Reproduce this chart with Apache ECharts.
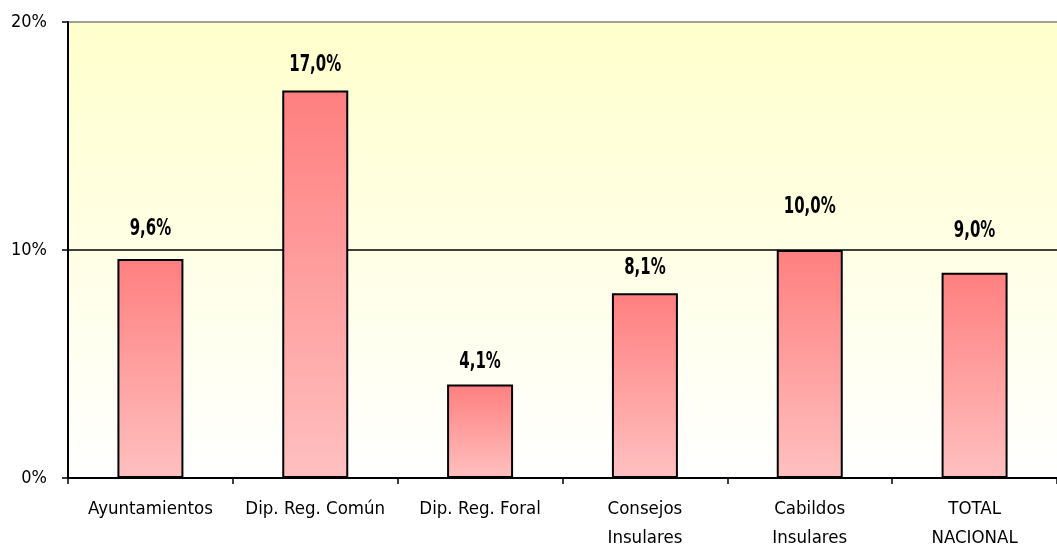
<!DOCTYPE html>
<html><head><meta charset="utf-8">
<script src="https://cdn.jsdelivr.net/npm/echarts@6/dist/echarts.min.js"></script>
<style>html,body{margin:0;padding:0;background:#fff}#c{width:1057px;height:553px}</style>
</head><body><div id="c"></div>
<script>
const categories = ['Ayuntamientos', 'Dip. Reg. Común', 'Dip. Reg. Foral', 'Consejos\nInsulares', 'Cabildos\nInsulares', 'TOTAL\nNACIONAL'];
const values = [9.6, 17.0, 4.1, 8.1, 10.0, 9.0];
const labels = ['9,6%', '17,0%', '4,1%', '8,1%', '10,0%', '9,0%'];
const yTicks = [0, 10, 20];

// styling only: pixel gap between bar top and its label baseline (as in the original)
const labelGap = [25, 20, 17, 20, 38, 37];

const FONT = '"DejaVu Sans Condensed", "Liberation Sans", sans-serif';
const chart = echarts.init(document.getElementById('c'));
chart.setOption({
  animation: false,
  grid: {
    left: 68, top: 22, bottom: 74, width: 998,
    show: true, borderWidth: 0,
    backgroundColor: new echarts.graphic.LinearGradient(0, 0, 0, 1, [
      {offset: 0, color: '#FFFFCC'}, {offset: 1, color: '#FFFFFF'}
    ])
  },
  xAxis: {
    type: 'category', data: categories,
    axisLine: {lineStyle: {color: '#000', width: 2}},
    axisTick: {show: true, length: 6, lineStyle: {color: '#000', width: 1.5}},
    axisLabel: {color: '#000', fontSize: 18.5, fontFamily: FONT, margin: 17, lineHeight: 29, interval: 0}
  },
  yAxis: {
    type: 'value', min: 0, max: 20, interval: 10,
    axisLine: {show: true, lineStyle: {color: '#000', width: 2}},
    axisTick: {show: true, length: 6, lineStyle: {color: '#000', width: 1.5}},
    axisLabel: {color: '#000', fontSize: 18, fontFamily: FONT, margin: 21,
      formatter: v => yTicks.includes(v) ? v + '%' : ''},
    splitLine: {show: true, lineStyle: {color: ['#000', '#000', '#808080'], width: 1.5}}
  },
  series: [{
    type: 'bar', data: values, barWidth: 66,
    itemStyle: {
      borderColor: '#000', borderWidth: 2,
      color: new echarts.graphic.LinearGradient(0, 0, 0, 1, [
        {offset: 0, color: '#FF7F7F'}, {offset: 1, color: '#FFC0C0'}
      ])
    }
  }, {
    type: 'custom',
    data: values.map((v, i) => [i, v]),
    z: 5,
    renderItem: (params, api) => {
      const i = params.dataIndex;
      const p = api.coord([api.value(0), api.value(1)]);
      return {
        type: 'text',
        x: p[0], y: p[1] - labelGap[i] - 5,
        scaleX: 0.65,
        style: {
          text: labels[i], fill: '#000',
          font: 'bold 23px "DejaVu Sans", sans-serif',
          align: 'center', verticalAlign: 'middle'
        }
      };
    }
  }]
});
</script></body></html>
